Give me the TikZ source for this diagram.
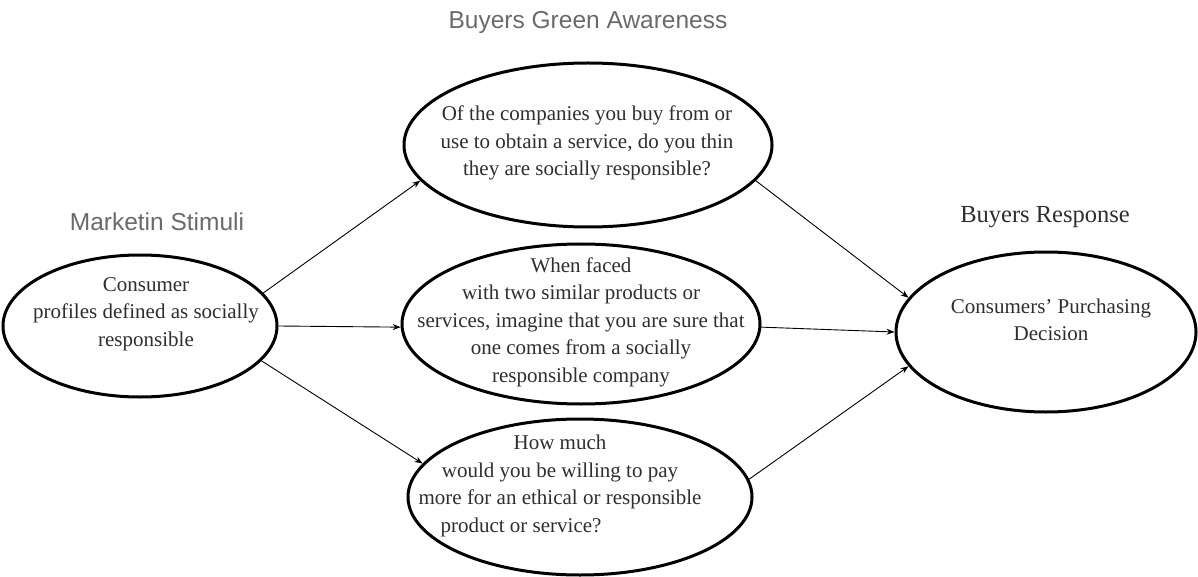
\documentclass[tikz,border=0pt]{standalone}
\usepackage{fontspec}
\setmainfont{Liberation Serif}
\newfontfamily\labelsans{Liberation Sans}
\usetikzlibrary{shapes.geometric,arrows.meta}
\definecolor{headgray}{HTML}{6A6A6A}
\definecolor{txt}{HTML}{2E2E2E}
\tikzset{
  oval/.style={draw=black, line width=3pt, ellipse, inner sep=0pt},
  inner/.style={text=txt, align=center, font=\fontsize{21}{27.5}\selectfont, inner sep=0pt},
  head/.style={text=headgray, font=\labelsans\fontsize{24.5}{28}\selectfont, inner sep=0pt},
  shead/.style={text=txt, font=\fontsize{24.5}{28}\selectfont, inner sep=0pt},
  conn/.style={line width=0.9pt, -{Stealth[length=8pt,width=6pt]}}
}
\begin{document}
\begin{tikzpicture}[x=1pt,y=1pt]
\useasboundingbox (0,0) rectangle (1198,-577);
% ellipses
\node[oval, minimum width=274pt, minimum height=142pt] (L) at (140,-326) {};
\node[oval, minimum width=368pt, minimum height=164pt] (T) at (588,-145) {};
\node[oval, minimum width=358pt, minimum height=160pt] (M) at (581,-324) {};
\node[oval, minimum width=344pt, minimum height=156pt] (B) at (580,-497) {};
\node[oval, minimum width=300pt, minimum height=160pt] (R) at (1046,-332) {};
% headings
\node[head] (h1) at (588,-22) {Buyers Green Awareness};
\node[head] (h2) at (157,-222) {Marketin Stimuli};
\node[shead] (h3) at (1045,-217) {Buyers Response};
% texts
\node[inner] (tL) at (146,-314) {Consumer\\profiles defined as socially\\responsible};
\node[inner] (tT) at (587,-143) {Of the companies you buy from or\\use to obtain a service, do you thin\\they are socially responsible?};
\node[inner] (tM) at (581,-322) {When faced\\with two similar products or\\services, imagine that you are sure that\\one comes from a socially\\responsible company};
\node[inner] (tB) at (560,-486) {How much\\would you be willing to pay\\more for an ethical or responsible\\product or service?\hspace*{78pt}};
\node[inner] (tR) at (1051,-320) {Consumers’ Purchasing\\Decision};
% connectors
\draw[conn] (L.15) -- (T.192);
\draw[conn] (L.0) -- (M.181);
\draw[conn] (L.-16) -- (B.168);
\draw[conn] (T.-12) -- (R.166);
\draw[conn] (M.-1) -- (R.180);
\draw[conn] (B.6) -- (R.194);
\end{tikzpicture}
\end{document}
